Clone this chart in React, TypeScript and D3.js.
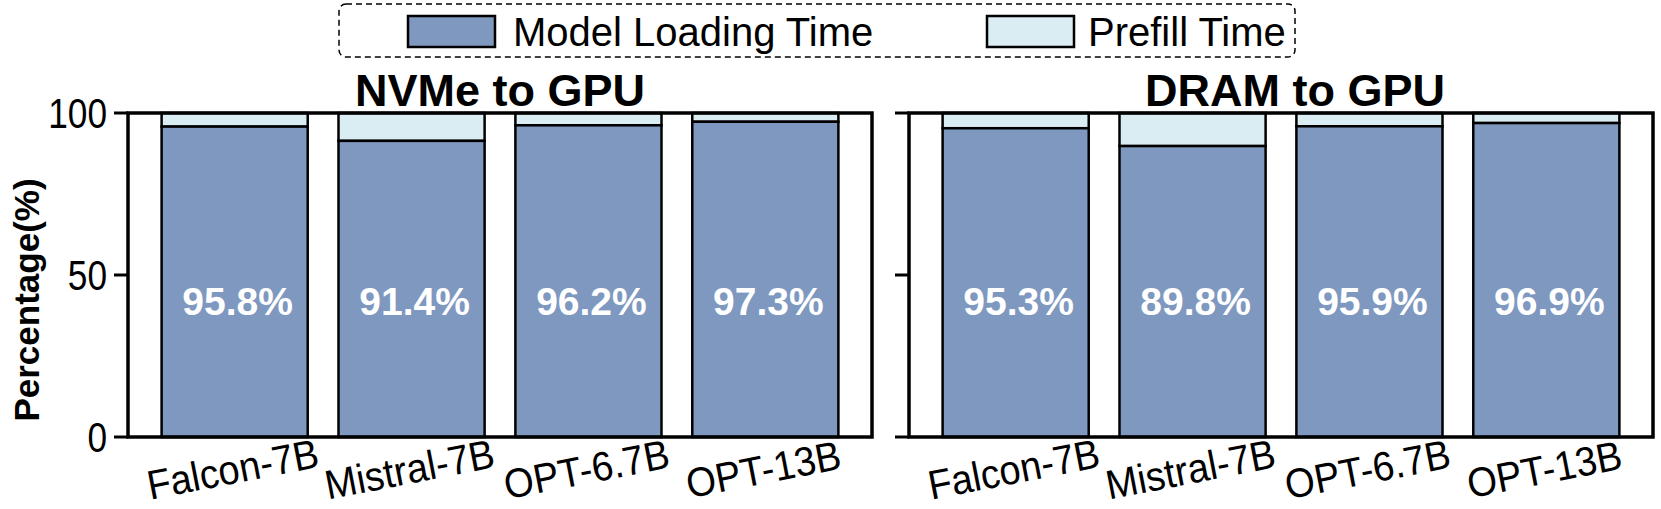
import React from 'react'
import * as d3 from 'd3'

const models = ['Falcon-7B', 'Mistral-7B', 'OPT-6.7B', 'OPT-13B']
const nvmeLoading = [95.8, 91.4, 96.2, 97.3]
const dramLoading = [95.3, 89.8, 95.9, 96.9]
const yTicks = [0, 50, 100]
const seriesNames = ['Model Loading Time', 'Prefill Time']

const BLUE = '#7e98bf'
const LIGHT = '#daedf3'
const FONT = '"Liberation Sans", Arial, sans-serif'

const width = 1661, height = 509
const top = 113, bottom = 437

const panels = [
  { title: 'NVMe to GPU', loading: nvmeLoading, x0: 128, x1: 872, titleX: 500, labels: true },
  { title: 'DRAM to GPU', loading: dramLoading, x0: 909, x1: 1653, titleX: 1295, labels: false },
]

function Panel({ p }: { p: typeof panels[number] }) {
  const x = d3.scaleBand<string>()
    .domain(models)
    .range([p.x0, p.x1])
    .paddingInner(0.174)
    .paddingOuter(0.19)
  const y = d3.scaleLinear().domain([0, 100]).range([bottom, top])
  const bw = x.bandwidth()

  return (
    <g>
      {models.map((m, i) => {
        const v = p.loading[i]
        const bx = x(m)!
        return (
          <g key={m}>
            <rect x={bx} y={y(100)} width={bw} height={y(v) - y(100)}
              fill={LIGHT} stroke="#000" strokeWidth={2.5} />
            <rect x={bx} y={y(v)} width={bw} height={y(0) - y(v)}
              fill={BLUE} stroke="#000" strokeWidth={2.5} />
            <text x={bx + bw / 2 + 3} y={y(37.8)} textAnchor="middle" fill="#fff"
              fontWeight="bold" fontSize={39} fontFamily={FONT}>{v.toFixed(1)}%</text>
            <text transform={`translate(${bx + bw / 2 - 2},469) rotate(-11) scale(0.93,1)`}
              textAnchor="middle" dominantBaseline="central" fontSize={41}
              fontFamily={FONT}>{m}</text>
          </g>
        )
      })}
      <rect x={p.x0} y={top} width={p.x1 - p.x0} height={bottom - top}
        fill="none" stroke="#000" strokeWidth={3.5} />
      {yTicks.map(t => (
        <g key={t}>
          <line x1={p.x0 - 14} x2={p.x0} y1={y(t)} y2={y(t)} stroke="#000" strokeWidth={3} />
          {p.labels && (
            <text transform={`translate(${p.x0 - 21},${y(t)}) scale(0.82,1)`}
              textAnchor="end" dominantBaseline="central"
              fontSize={43} fontFamily={FONT}>{t}</text>
          )}
        </g>
      ))}
      <text x={p.titleX} y={106} textAnchor="middle" fontWeight="bold" fontSize={45}
        fontFamily={FONT}>{p.title}</text>
    </g>
  )
}

export default function App() {
  const legendColors = [BLUE, LIGHT]
  const legendX = [408, 987]
  const legendTextX = [513, 1088]
  return (
    <svg width={width} height={height}
      style={{ position: 'absolute', left: 0, top: 0, background: '#fff' }}>
      <rect x={339} y={4} width={956} height={53} rx={7} fill="none" stroke="#000"
        strokeWidth={1.5} strokeDasharray="6,4" />
      {seriesNames.map((s, i) => (
        <g key={s}>
          <rect x={legendX[i]} y={16} width={87} height={31} fill={legendColors[i]}
            stroke="#000" strokeWidth={2.5} />
          <text x={legendTextX[i]} y={46} fontSize={40} fontFamily={FONT}>{s}</text>
        </g>
      ))}
      {panels.map(p => <Panel key={p.title} p={p} />)}
      <text transform="translate(26,300) rotate(-90)" textAnchor="middle"
        dominantBaseline="central" fontWeight="bold" fontSize={35}
        fontFamily={FONT}>Percentage(%)</text>
    </svg>
  )
}
